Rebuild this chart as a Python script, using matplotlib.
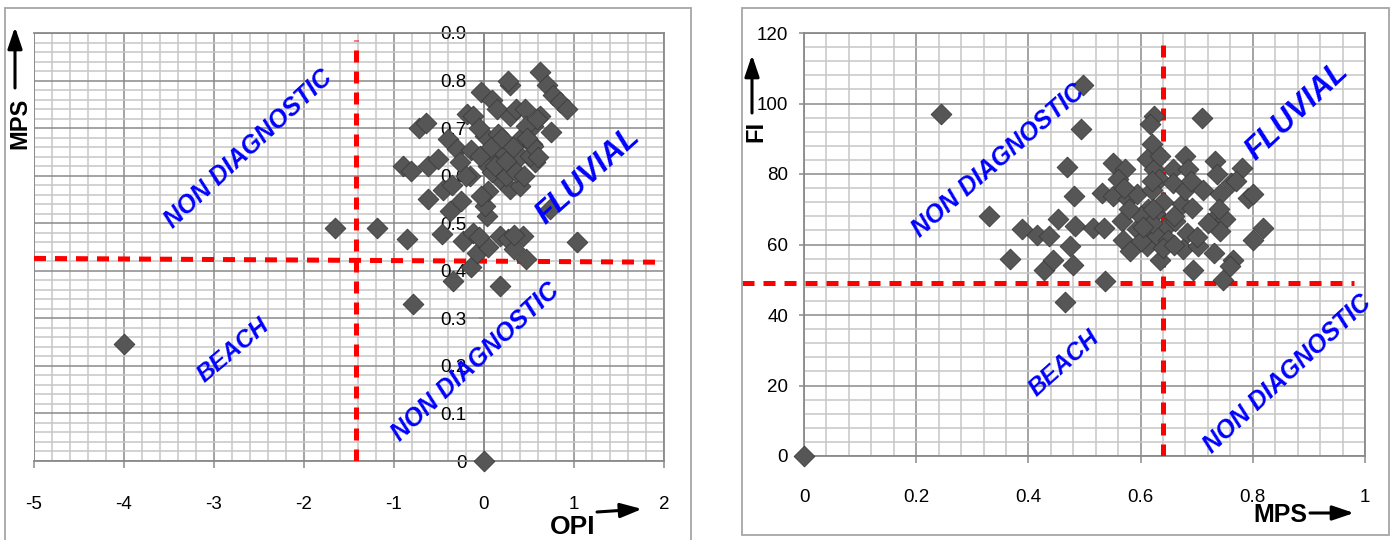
import matplotlib
matplotlib.use("Agg")
import matplotlib.pyplot as plt
from matplotlib.ticker import MultipleLocator
import matplotlib.patches as mpatches

plt.rcParams['axes.unicode_minus'] = False
TICKFONT = ['Liberation Sans Narrow', 'Liberation Sans', 'DejaVu Sans']
LABELFONT = ['Liberation Sans Narrow', 'Liberation Sans', 'DejaVu Sans']
ANNFONT = ['Liberation Sans', 'DejaVu Sans']

# ---------------- data: left chart (OPI vs MPS) ----------------
opi = [-1.66, -1.19, -0.86, -0.79, -0.72, -0.64, -0.90, -0.81, -0.62, -0.62,
       -0.51, -0.47, -0.45, -0.38, -0.34, -0.40, -0.30, -0.27, -0.25, -0.23,
       -0.19, -0.12, -0.14, -0.16, -0.12, -0.14, -0.08, -0.03, 0.01, 0.03,
       0.01, 0.05, 0.05, 0.085, 0.10, 0.14, 0.16, 0.18, 0.18, 0.18,
       0.21, 0.27, 0.29, 0.27, 0.29, 0.29, 0.29, 0.33, 0.36, 0.40,
       0.40, 0.40, 0.43, 0.46, 0.47, 0.53, 0.57, 0.55, 0.62, 0.75,
       0.62, 0.70, 0.77, 0.84, 0.92, 0.73, 1.03, -0.03, -0.04, 0.085,
       0.25, 0.36, 0.51, 0.55, 0.47, 0.585, -0.05, 0.08, 0.12, 0.20,
       0.24, 0.32, 0.45, 0.48, -0.35, -0.20, 0.05, -0.05, 0.33, 0.60,
       -4.0, 0.0]
mps_l = [0.49, 0.49, 0.466, 0.33, 0.70, 0.71, 0.62, 0.61, 0.55, 0.62,
         0.635, 0.477, 0.57, 0.526, 0.378, 0.677, 0.656, 0.629, 0.547, 0.463,
         0.73, 0.726, 0.653, 0.60, 0.48, 0.407, 0.438, 0.776, 0.684, 0.515,
         0.536, 0.568, 0.62, 0.76, 0.65, 0.74, 0.688, 0.593, 0.368, 0.473,
         0.65, 0.466, 0.79, 0.80, 0.726, 0.572, 0.614, 0.445, 0.74, 0.677,
         0.579, 0.642, 0.473, 0.74, 0.424, 0.667, 0.628, 0.705, 0.726, 0.692,
         0.818, 0.79, 0.769, 0.755, 0.74, 0.53, 0.46, 0.558, 0.642, 0.607,
         0.60, 0.607, 0.642, 0.663, 0.705, 0.72, 0.70, 0.66, 0.62, 0.68,
         0.63, 0.66, 0.60, 0.68, 0.58, 0.60, 0.45, 0.47, 0.475, 0.64,
         0.245, 0.0]

# ---------------- data: right chart (MPS vs FI) ----------------
mps_r = [0.497, 0.493, 0.468, 0.481, 0.453, 0.389, 0.415, 0.436, 0.367, 0.427,
         0.443, 0.474, 0.479, 0.483, 0.465, 0.516, 0.535, 0.537, 0.531, 0.551,
         0.572, 0.560, 0.566, 0.551, 0.578, 0.569, 0.581, 0.593, 0.593, 0.611,
         0.623, 0.617, 0.620, 0.611, 0.623, 0.632, 0.635, 0.620, 0.614, 0.626,
         0.611, 0.629, 0.635, 0.647, 0.658, 0.658, 0.673, 0.661, 0.649, 0.679,
         0.685, 0.679, 0.691, 0.682, 0.676, 0.703, 0.694, 0.709, 0.712, 0.733,
         0.736, 0.742, 0.730, 0.750, 0.742, 0.730, 0.765, 0.759, 0.747, 0.762,
         0.780, 0.792, 0.801, 0.819, 0.801, 0.600, 0.620, 0.640, 0.660, 0.600,
         0.640, 0.660, 0.720, 0.700, 0.570, 0.580, 0.620, 0.690, 0.740, 0.770,
         0.605, 0.622, 0.245, 0.330, 0.0]
fi = [105.2, 92.9, 82.1, 73.7, 67.1, 64.3, 62.8, 62.4, 56.0, 52.9,
      55.7, 59.5, 54.3, 65.2, 43.6, 64.7, 64.7, 49.6, 74.7, 83.2,
      81.3, 78.5, 66.6, 73.7, 72.8, 61.4, 58.1, 74.2, 64.3, 62.4,
      96.5, 94.1, 88.4, 84.2, 81.3, 78.5, 85.1, 75.6, 70.0, 69.0,
      59.5, 62.4, 55.7, 65.2, 81.3, 77.5, 71.4, 66.6, 61.4, 85.1,
      81.3, 75.6, 70.4, 63.3, 58.6, 59.5, 52.9, 96.0, 75.6, 83.7,
      79.9, 74.2, 67.1, 67.1, 63.8, 57.6, 55.7, 53.8, 50.0, 77.5,
      81.8, 73.3, 74.2, 64.7, 61.4, 68.0, 66.0, 72.0, 68.0, 61.0,
      59.0, 60.0, 66.0, 62.0, 76.0, 70.0, 78.0, 78.0, 70.0, 78.0,
      65.0, 70.0, 97.0, 68.0, 0.0]

# threshold lines (data coordinates)
left_vline_x = -1.42
left_hline = ([-5.0, 2.0], [0.426, 0.418])
right_vline_x = 0.64
right_hline_y = 49.1

W, H = 1391, 540
fig = plt.figure(figsize=(W / 100, H / 100), dpi=100)

# outer frames
for (x0, y0, x1, y1) in [(5, 8, 691, 542), (742, 8, 1389, 535)]:
    fig.patches.append(mpatches.Rectangle((x0 / W, 1 - y1 / H), (x1 - x0) / W, (y1 - y0) / H,
                                          transform=fig.transFigure, fill=False,
                                          edgecolor='#a6a6a6', linewidth=1.3))

MINOR_C = '#c6c6c6'
MAJOR_C = '#8a8a8a'
DIAMOND = dict(marker='D', s=112, c='#565656', edgecolors='#3c3c3c', linewidths=0.6,
               zorder=5, clip_on=False)
RED = dict(color='#ff0000', linewidth=3.6, linestyle=(0, (2.4, 1.8)), zorder=4)
BLUE = dict(color='#0000ff', fontweight='bold', fontstyle='italic', family=ANNFONT,
            ha='center', va='center', zorder=6)


def style_grid(ax):
    ax.grid(which='minor', color=MINOR_C, linewidth=1.1, zorder=0)
    ax.grid(which='major', color=MAJOR_C, linewidth=1.1, zorder=1)
    ax.set_axisbelow(True)
    for s in ax.spines.values():
        s.set_color(MAJOR_C)
        s.set_linewidth(1.3)


# ---------------- left axes ----------------
ax1 = fig.add_axes([34 / W, 1 - 461 / H, 630 / W, 428 / H])
ax1.set_xlim(-5, 2)
ax1.set_ylim(0, 0.9)
ax1.xaxis.set_major_locator(MultipleLocator(1))
ax1.xaxis.set_minor_locator(MultipleLocator(0.2))
ax1.yaxis.set_major_locator(MultipleLocator(0.1))
ax1.yaxis.set_minor_locator(MultipleLocator(0.02))
style_grid(ax1)
ax1.spines['left'].set_position(('data', 0))
ax1.axvline(-5, color=MAJOR_C, linewidth=1.3, zorder=1)
ax1.tick_params(which='minor', length=0)
ax1.tick_params(axis='x', which='major', direction='out', length=5, width=1.1,
                color=MAJOR_C, pad=20, labelsize=13.5)
ax1.tick_params(axis='y', which='major', direction='out', length=3.5, width=1.1,
                color=MAJOR_C, pad=9, labelsize=13.5)
ax1.set_yticks([0, 0.1, 0.2, 0.3, 0.4, 0.5, 0.6, 0.7, 0.8, 0.9])
ax1.set_yticklabels(['0', '0.1', '0.2', '0.3', '0.4', '0.5', '0.6', '0.7', '0.8', '0.9'])
for lab in ax1.get_xticklabels() + ax1.get_yticklabels():
    lab.set_family(TICKFONT)
    lab.set_zorder(7)

ax1.scatter(opi, mps_l, **DIAMOND)
ax1.plot([left_vline_x, left_vline_x], [0, 0.885], **RED)
ax1.plot(left_hline[0], left_hline[1], **RED)

ax1.text(-2.62, 0.655, 'NON DIAGNOSTIC', rotation=43, fontsize=18, **BLUE)
ax1.text(1.16, 0.60, 'FLUVIAL', rotation=42, fontsize=22, **BLUE)
ax1.text(-2.79, 0.232, 'BEACH', rotation=40, fontsize=17.5, **BLUE)
ax1.text(-0.10, 0.209, 'NON DIAGNOSTIC', rotation=43, fontsize=18, **BLUE)

# ---------------- right axes ----------------
ax2 = fig.add_axes([804 / W, 1 - 456 / H, 561 / W, 423 / H])
ax2.set_xlim(0, 1)
ax2.set_ylim(0, 120)
ax2.xaxis.set_major_locator(MultipleLocator(0.2))
ax2.xaxis.set_minor_locator(MultipleLocator(0.04))
ax2.yaxis.set_major_locator(MultipleLocator(20))
ax2.yaxis.set_minor_locator(MultipleLocator(4))
style_grid(ax2)
ax2.tick_params(which='minor', length=0)
ax2.tick_params(axis='x', which='major', direction='out', length=5, width=1.1,
                color=MAJOR_C, pad=19, labelsize=13.5)
ax2.tick_params(axis='y', which='major', direction='out', length=3.5, width=1.1,
                color=MAJOR_C, pad=8, labelsize=13.5)
ax2.set_xticks([0, 0.2, 0.4, 0.6, 0.8, 1.0])
ax2.set_xticklabels(['0', '0.2', '0.4', '0.6', '0.8', '1'])
for lab in ax2.get_xticklabels() + ax2.get_yticklabels():
    lab.set_family(TICKFONT)
    lab.set_zorder(7)

ax2.scatter(mps_r, fi, **DIAMOND)
ax2.plot([right_vline_x, right_vline_x], [0, 117.5], **RED)
ax2.plot([-0.11, 0.98], [right_hline_y, right_hline_y], clip_on=False, **RED)

ax2.text(0.346, 83.8, 'NON DIAGNOSTIC', rotation=41, fontsize=18, **BLUE)
ax2.text(0.879, 97.8, 'FLUVIAL', rotation=43, fontsize=22, **BLUE)
ax2.text(0.463, 26.2, 'BEACH', rotation=42, fontsize=17.5, **BLUE)
ax2.text(0.861, 23.3, 'NON DIAGNOSTIC', rotation=43, fontsize=18, **BLUE)

# ---------------- axis titles with arrows (figure pixel coords) ----------------
def fx(px):
    return px / W


def fy(py):
    return 1 - py / H


fig.text(fx(20), fy(123), 'MPS', rotation=90, fontsize=17, fontweight='bold',
         family=['Liberation Sans', 'DejaVu Sans'], ha='center', va='center')
fig.text(fx(573), fy(527), 'OPI', fontsize=19, family=LABELFONT, fontweight='bold',
         ha='center', va='center')
fig.text(fx(756), fy(131), 'FI', rotation=90, fontsize=17, fontweight='bold',
         family=['Liberation Sans', 'DejaVu Sans'], ha='center', va='center')
fig.text(fx(1280), fy(515), 'MPS', fontsize=18, family=LABELFONT, fontweight='bold',
         ha='center', va='center')

ARROW = dict(arrowstyle='-|>,head_length=0.65,head_width=0.22', color='black',
             linewidth=2.2, shrinkA=0, shrinkB=0, mutation_scale=20)
for (x0, y0, x1, y1) in [(15, 88, 15, 27), (752, 113, 752, 55),
                         (597, 512, 642, 509), (1310, 513, 1354, 513)]:
    fig.patches.append(mpatches.FancyArrowPatch((fx(x0), fy(y0)), (fx(x1), fy(y1)),
                                                transform=fig.transFigure, **ARROW))

fig.savefig('out.png', dpi=100)
